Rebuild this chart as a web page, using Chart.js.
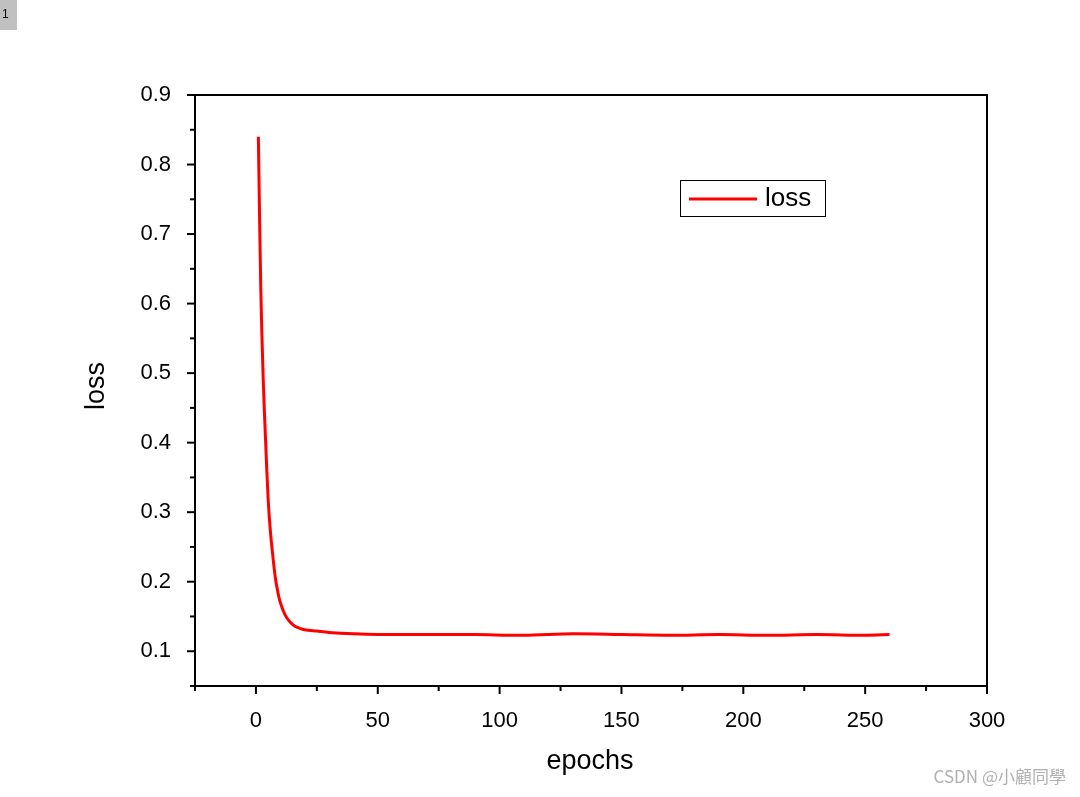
<!DOCTYPE html>
<html>
<head>
<meta charset="utf-8">
<script src="https://cdn.jsdelivr.net/npm/chart.js@4"></script>
<style>
  html, body { margin: 0; padding: 0; background: #fff; }
  #wrap { width: 1080px; height: 797px; position: relative; }
</style>
</head>
<body>
<div id="wrap"><canvas id="lossChart"></canvas></div>
<script>
// values
const epochs = [1, 2, 3, 4, 5, 6, 7, 8, 9, 10, 12, 14, 16, 18, 20, 25, 30, 40, 50, 70, 90, 110, 130, 150, 170, 190, 210, 230, 250, 260];
const lossValues = [0.84, 0.62, 0.49, 0.40, 0.32, 0.27, 0.235, 0.205, 0.185, 0.17, 0.152, 0.142, 0.136, 0.133, 0.131, 0.129, 0.127, 0.125, 0.124, 0.124, 0.124, 0.123, 0.125, 0.124, 0.123, 0.124, 0.123, 0.124, 0.123, 0.124];
const xTicks = [0, 50, 100, 150, 200, 250, 300];
const yTicks = [0.1, 0.2, 0.3, 0.4, 0.5, 0.6, 0.7, 0.8, 0.9];

const FONT = 'Arial, "Liberation Sans", sans-serif';

// frame, ticks, titles, legend and extras
const decor = {
    id: 'decor',
    afterDraw(chart) {
        const c = chart.ctx, a = chart.chartArea;
        const xs = chart.scales.x, ys = chart.scales.y;
        c.save();
        c.strokeStyle = '#000';
        c.lineWidth = 2;
        c.strokeRect(a.left, a.top, a.right - a.left, a.bottom - a.top);
        // x ticks
        for (let v = -25; v <= 300; v += 25) {
            const px = xs.getPixelForValue(v);
            const len = v % 50 === 0 ? 8 : 5;
            c.beginPath(); c.moveTo(px, a.bottom); c.lineTo(px, a.bottom + len); c.stroke();
        }
        // y ticks
        for (let i = 1; i <= 18; i++) {
            const v = i * 0.05;
            const py = ys.getPixelForValue(v);
            const len = i % 2 === 0 ? 8 : 5;
            c.beginPath(); c.moveTo(a.left, py); c.lineTo(a.left - len, py); c.stroke();
        }
        // axis titles
        c.fillStyle = '#000';
        c.font = '27px ' + FONT;
        c.textAlign = 'center';
        c.textBaseline = 'middle';
        c.fillText('epochs', 590, 762);
        c.save();
        c.translate(97, 386);
        c.rotate(-Math.PI / 2);
        c.fillText('loss', 0, 0);
        c.restore();
        // legend
        c.textAlign = 'left';
        c.fillStyle = '#fff';
        c.lineWidth = 1;
        c.fillRect(680, 180, 145, 36);
        c.strokeRect(680.5, 180.5, 145, 36);
        c.strokeStyle = '#ff0000';
        c.lineWidth = 3;
        c.beginPath(); c.moveTo(689, 199); c.lineTo(757, 199); c.stroke();
        c.fillStyle = '#000';
        c.font = '26px ' + FONT;
        c.fillText('loss', 765, 199);
        // corner label
        c.fillStyle = '#c0c0c0';
        c.fillRect(0, 0, 17, 30);
        c.fillStyle = '#000';
        c.font = '12px ' + FONT;
        c.fillText('1', 2, 15);
        // watermark
        c.fillStyle = '#b0b0b0';
        c.font = '17px "Noto Sans CJK SC", sans-serif';
        c.textAlign = 'right';
        c.fillText('CSDN @小顧同學', 1066, 777);
        c.restore();
    }
};

const ctx = document.getElementById('lossChart').getContext('2d');
new Chart(ctx, {
    type: 'line',
    data: {
        datasets: [{
            label: 'loss',
            data: epochs.map((e, i) => ({ x: e, y: lossValues[i] })),
            borderColor: '#ff0000',
            borderWidth: 3,
            pointRadius: 0,
            tension: 0.3,
            fill: false
        }]
    },
    options: {
        responsive: true,
        maintainAspectRatio: false,
        animation: false,
        layout: { padding: { top: 95, right: 93, left: 0, bottom: 0 } },
        plugins: { legend: { display: false }, tooltip: { enabled: false } },
        scales: {
            x: {
                type: 'linear',
                min: -25, max: 300,
                afterFit: s => { s.height = 111; },
                afterBuildTicks: s => { s.ticks = xTicks.map(v => ({ value: v })); },
                grid: { display: false },
                border: { display: false },
                ticks: { color: '#000', font: { size: 22, family: FONT }, padding: 14, maxRotation: 0 }
            },
            y: {
                min: 0.05, max: 0.9,
                afterFit: s => { s.width = 195; },
                afterBuildTicks: s => { s.ticks = yTicks.map(v => ({ value: v })); },
                grid: { display: false },
                border: { display: false },
                ticks: { color: '#000', font: { size: 22, family: FONT }, padding: 16, callback: v => v.toFixed(1) }
            }
        }
    },
    plugins: [decor]
});
</script>
</body>
</html>
